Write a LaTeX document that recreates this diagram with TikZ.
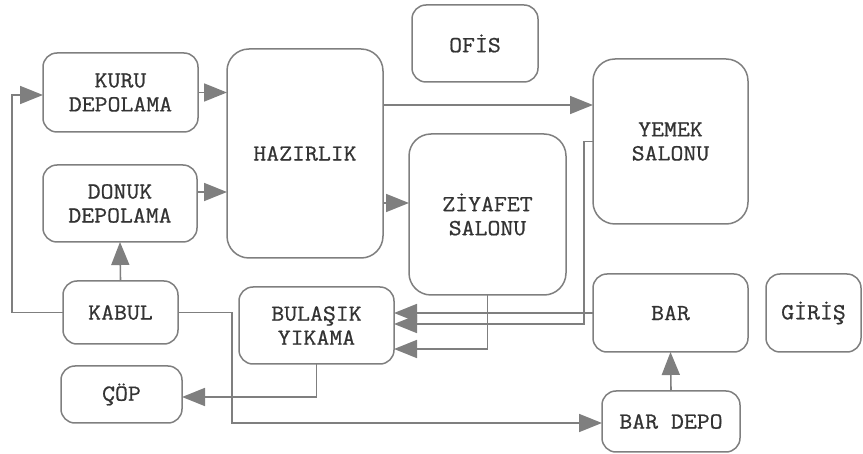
\documentclass[tikz,border=0pt]{standalone}
\usepackage{fontspec}
\newfontfamily\labfont{Latin Modern Mono}[FakeBold=0.8, FakeStretch=1.09]
\usetikzlibrary{arrows.meta}
\definecolor{ln}{HTML}{7F7F7F}
\definecolor{tx}{HTML}{333333}
\tikzset{
  room/.style={draw=ln, line width=1.5pt, rounded corners=14pt, inner sep=0pt, outer sep=0pt,
    align=center, text=tx, font=\labfont\fontsize{23}{24}\selectfont},
  bigroom/.style={room, rounded corners=22pt},
  flow/.style={draw=ln, line width=1.6pt, -{Triangle[length=23pt,width=18pt]}, color=ln}
}
\begin{document}
\begin{tikzpicture}[x=1pt,y=-1pt]
\useasboundingbox (0,0) rectangle (863,454);
\node[room, minimum width=155pt, minimum height=79pt] (kuru) at (120.5,92.5) {KURU\\DEPOLAMA};
\node[room, minimum width=154pt, minimum height=77pt] (donuk) at (120,203.5) {DONUK\\DEPOLAMA};
\node[bigroom, minimum width=156pt, minimum height=209pt] (hazir) at (305,153.5) {HAZIRLIK};
\node[room, minimum width=126pt, minimum height=77pt] (ofis) at (475,43.5) {OFİS};
\node[bigroom, minimum width=155pt, minimum height=165pt] (yemek) at (670.5,141.5) {YEMEK\\SALONU};
\node[bigroom, minimum width=157pt, minimum height=161pt] (ziyafet) at (487.5,214.5) {ZİYAFET\\SALONU};
\node[room, minimum width=115pt, minimum height=63pt] (kabul) at (120.5,312.5) {KABUL};
\node[room, minimum width=155pt, minimum height=77pt] (bulasik) at (316.5,325.5) {BULAŞIK\\YIKAMA};
\node[room, minimum width=121pt, minimum height=57pt] (cop) at (121.5,394.5) {ÇÖP};
\node[room, minimum width=155pt, minimum height=78pt] (bar) at (670.5,313) {BAR};
\node[room, minimum width=95pt, minimum height=78pt] (giris) at (813.5,313) {GİRİŞ};
\node[room, minimum width=138pt, minimum height=61pt] (bardepo) at (671,421.5) {BAR DEPO};

\draw[flow] (kabul.west) -- ++(-51,0) |- ([yshift=-2.5pt]kuru.west);
\draw[flow] (kuru.east) -- (kuru.east -| hazir.west);
\draw[flow] ([yshift=11.5pt]donuk.east) -- ([yshift=11.5pt]donuk.east -| hazir.west);
\draw[flow] (kabul.north) -- (donuk.south);
\draw[flow] ([yshift=48.5pt]hazir.east) -- ([yshift=48.5pt]hazir.east -| yemek.west);
\draw[flow] ([yshift=-49.5pt]hazir.east) -- ([yshift=-49.5pt]hazir.east -| ziyafet.west);
\draw[flow] (kabul.east) -- ++(54,0) |- ([yshift=-1.5pt]bardepo.west);
\draw[flow] (bulasik.south) |- ([yshift=-2.5pt]cop.east);
\draw[flow] (bar.west) -- (bar.west -| bulasik.east);
\draw[flow] (yemek.west) -- ++(-9,0) |- ([yshift=1.5pt]bulasik.east);
\draw[flow] (ziyafet.south) |- ([yshift=-23.5pt]bulasik.east);
\draw[flow] (bardepo.north) -- (bar.south);
\end{tikzpicture}
\end{document}
